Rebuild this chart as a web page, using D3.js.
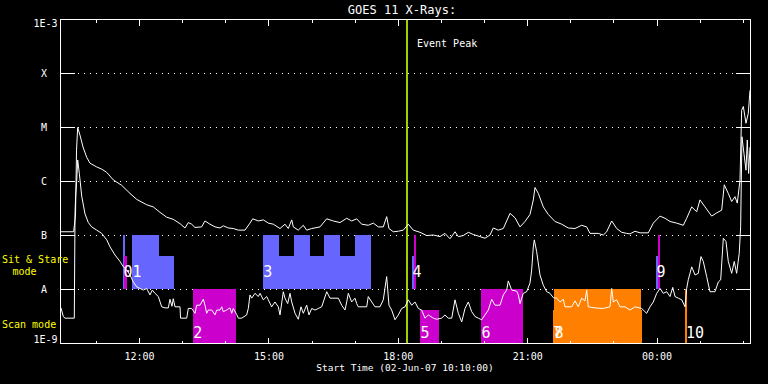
<!DOCTYPE html>
<html>
<head>
<meta charset="utf-8">
<script src="https://cdn.jsdelivr.net/npm/d3@7"></script>
<style>
body { margin: 0; background: #000; }
svg { display: block; background: #000; }
text { font-family: "DejaVu Sans Mono", monospace; fill: #fff; }
</style>
</head>
<body>
<svg></svg>
<script>
const svgWidth = 768;
const svgHeight = 384;
const plot = {left: 60, right: 750, top: 19, bottom: 343};

const title = "GOES 11 X-Rays:";
const startTime = new Date(2007, 5, 2, 10, 10, 0);
const spanMinutes = 960;
const eventPeakMin = 483;

const levelValues = [1e-9, 1e-8, 1e-7, 1e-6, 1e-5, 1e-4, 1e-3];
const levelLabels = ["1E-9", "A", "B", "C", "M", "X", "1E-3"];

// GOES long channel, [minutes after start, log10 flux]
const longChannel = [[0,-6.94],[19,-6.94],[21.6,-6.63],[23,-5.43],[24.6,-5.01],[27.8,-5.15],[32,-5.37],[37.1,-5.56],[41.7,-5.67],[51.1,-5.74],[58,-5.78],[65,-5.84],[74.2,-5.98],[85.8,-6.08],[97.4,-6.23],[106.7,-6.34],[120.6,-6.44],[129.8,-6.48],[139.1,-6.58],[148.4,-6.67],[157.6,-6.71],[167,-6.79],[173.9,-6.87],[178.5,-6.77],[183.2,-6.80],[187.8,-6.86],[197.1,-6.85],[201.7,-6.74],[208.7,-6.80],[215.7,-6.85],[222.6,-6.87],[227.2,-6.83],[234.2,-6.87],[241.1,-6.88],[248.1,-6.91],[257.4,-6.91],[264.3,-6.78],[268.1,-6.70],[275.9,-6.74],[282.9,-6.72],[289.8,-6.78],[296.8,-6.80],[306.1,-6.88],[313,-6.80],[317.6,-6.88],[322.4,-6.72],[324.6,-6.85],[331.5,-6.91],[338.5,-6.82],[343.2,-6.91],[350.2,-6.88],[361.7,-6.85],[371.1,-6.70],[380.2,-6.74],[389.6,-6.77],[398.9,-6.69],[405.8,-6.74],[412.8,-6.70],[419.7,-6.80],[428.9,-6.82],[435.9,-6.78],[442.9,-6.85],[449.8,-6.85],[454.5,-6.66],[457.7,-6.88],[463.7,-6.94],[470.7,-6.93],[477.6,-6.91],[484.6,-6.80],[491.5,-6.91],[500.9,-6.95],[510.2,-7.01],[519.4,-7.00],[528.7,-7.03],[535.6,-6.97],[542.6,-7.07],[549.6,-6.94],[554.2,-7.03],[561.1,-7.01],[568.1,-6.95],[575,-6.99],[584.3,-7.03],[591.3,-7.06],[598.3,-7.00],[602.8,-6.87],[609.8,-6.91],[616.8,-6.88],[626.1,-6.60],[633,-6.68],[640,-6.85],[647,-6.75],[653.9,-6.62],[658.5,-6.35],[660.9,-6.12],[665.5,-6.23],[672.4,-6.48],[679.4,-6.62],[688.7,-6.75],[698,-6.80],[707.2,-6.87],[716.5,-6.88],[725.8,-6.82],[732.8,-6.85],[737.4,-6.97],[748.9,-6.97],[755.9,-7.00],[760.6,-6.94],[767.6,-6.74],[774.5,-6.88],[781.5,-6.95],[788.4,-6.97],[793,-6.98],[800,-6.93],[807,-6.96],[818.5,-6.96],[825.5,-6.78],[834.8,-6.65],[841.7,-6.69],[848.7,-6.75],[858,-6.78],[867.2,-6.82],[871.9,-6.69],[878.9,-6.48],[885.8,-6.57],[890.4,-6.35],[897.4,-6.48],[906.7,-6.65],[913.7,-6.59],[920.6,-6.54],[924.2,-6.07],[929.8,-6.23],[934.5,-6.38],[939.1,-6.29],[942.3,-6.41],[946.1,-5.98],[948.4,-4.69],[950.7,-4.62],[954.4,-4.93],[957.6,-4.75],[960,-4.32]];

// GOES short channel, [minutes after start, log10 flux]
const shortChannel = [[1.4,-8.35],[4.6,-8.51],[7,-8.54],[19.9,-8.54],[20.9,-6.59],[21.8,-6.26],[23.2,-6.01],[24.6,-5.61],[26.9,-5.86],[30.2,-6.28],[34.8,-6.61],[39.4,-6.77],[44.1,-6.85],[51.1,-6.91],[58,-6.97],[65,-7.09],[69.6,-7.22],[76.5,-7.37],[83.5,-7.49],[88.1,-7.59],[92.8,-7.65],[97.4,-7.74],[102,-7.87],[106.7,-7.96],[111.3,-7.99],[115.9,-8.02],[120.6,-7.99],[125.2,-8.11],[128.4,-8.02],[132.2,-8.08],[136.8,-8.14],[141.5,-8.33],[146.1,-8.35],[150.7,-8.35],[153,-8.19],[155.8,-8.32],[157.6,-8.18],[160,-8.33],[167,-8.33],[167.7,-8.54],[176.3,-8.54],[178.5,-8.36],[183.2,-8.36],[187.8,-8.45],[190.2,-8.30],[194.8,-8.30],[199.4,-8.19],[201.7,-8.30],[204.1,-8.45],[206.3,-8.39],[211.1,-8.39],[215.7,-8.48],[218.1,-8.39],[222.6,-8.39],[225,-8.33],[227.2,-8.42],[231.9,-8.39],[236.5,-8.35],[238.9,-8.45],[241.1,-8.36],[245.8,-8.47],[248.1,-8.54],[252.8,-8.54],[259.7,-8.48],[262,-8.36],[264.3,-8.11],[266.7,-8.17],[271.3,-8.08],[275.9,-8.14],[278.3,-8.08],[282.9,-8.20],[287.6,-8.14],[289.8,-8.20],[294.5,-8.33],[299.1,-8.24],[303.7,-8.33],[306.1,-8.48],[310.7,-8.05],[313,-8.17],[316.8,-8.27],[320,-8.08],[322.4,-8.24],[327,-8.45],[331.5,-8.56],[335.3,-8.33],[338.5,-8.45],[343.2,-8.30],[346.4,-8.48],[350.2,-8.36],[354.8,-8.39],[359.4,-8.36],[364.1,-8.33],[371.1,-8.05],[375.7,-8.17],[387.2,-8.17],[391.9,-8.30],[396.5,-8.39],[398.9,-8.24],[401.1,-8.08],[405.8,-8.24],[410.4,-8.17],[412.8,-8.27],[415,-8.33],[426.7,-8.33],[428.9,-8.14],[433.7,-8.24],[438.3,-8.33],[445.2,-8.33],[449.8,-8.20],[454.5,-7.77],[457.7,-8.30],[461.5,-8.39],[466.1,-8.57],[470.7,-8.48],[475.4,-8.36],[480,-8.33],[484.6,-8.20],[489.3,-8.30],[493.9,-8.24],[498.5,-8.36],[503.2,-8.39],[507.8,-8.54],[512.4,-8.48],[519.4,-8.54],[524,-8.56],[531,-8.54],[535.6,-8.48],[540.2,-8.54],[545,-8.54],[549.6,-8.20],[554.2,-8.45],[558.9,-8.61],[563.5,-8.36],[568.1,-8.24],[572.8,-8.42],[577.4,-8.51],[582,-8.54],[586.7,-8.57],[591.3,-8.48],[595.9,-8.39],[600.6,-8.19],[605.2,-8.30],[612.2,-8.30],[616.8,-8.11],[621.5,-8.02],[623.7,-7.85],[628.4,-8.02],[635.4,-8.04],[637.7,-8.11],[640,-8.27],[644.6,-8.08],[649.3,-8.05],[653.9,-7.89],[656.2,-7.65],[658.5,-7.22],[659.9,-7.09],[663.2,-7.31],[667.8,-7.74],[672.4,-7.93],[677.1,-8.05],[681.7,-8.08],[686.3,-8.16],[691,-8.17],[695.7,-8.24],[700.3,-8.19],[702.6,-8.33],[711.9,-8.33],[716.5,-8.22],[721.1,-8.33],[725.8,-8.17],[730.4,-8.22],[732.8,-8.02],[735,-8.33],[744.3,-8.35],[755.9,-8.36],[765.2,-8.33],[767.6,-7.99],[769.8,-8.24],[774.5,-8.20],[779.1,-8.33],[786.1,-8.33],[793,-8.39],[800,-8.33],[809.3,-8.36],[816.2,-8.45],[820.9,-8.33],[825.5,-8.24],[830.2,-8.08],[834.8,-7.99],[839.4,-8.08],[844.1,-8.05],[848.7,-8.14],[852.5,-7.97],[855.7,-8.14],[860.3,-8.17],[865,-8.20],[869.6,-8.33],[871.9,-7.99],[874.1,-7.83],[878.9,-7.59],[883.5,-7.74],[888.1,-7.71],[891.8,-7.40],[895,-7.49],[899.7,-7.77],[904.3,-8.05],[911.3,-8.05],[915.9,-7.87],[919.2,-7.83],[922.9,-7.06],[926.6,-7.12],[929.8,-7.49],[934.5,-7.71],[938.1,-7.49],[941.4,-7.71],[945,-7.34],[947,-6.85],[948.8,-5.18],[951.6,-5.49],[954.4,-5.80],[956.2,-5.24],[958.1,-5.86],[960,-5.37]];

// observing blocks: [mode, colour key, start min, end min, full height?]
const blocks = [
	["sit", "blue", 87.7, 90.4, true],
	["sit", "magenta", 89, 93.2, false],
	["sit", "blue", 100.2, 137.3, true],
	["sit", "blue", 137.3, 158.6, false],
	["scan", "magenta", 184.6, 244.4, true],
	["sit", "blue", 282, 432.3, false],
	["sit", "blue", 282, 304.7, true],
	["sit", "blue", 325.6, 347.8, true],
	["sit", "blue", 367.3, 389.6, true],
	["sit", "blue", 410.4, 432.3, true],
	["sit", "blue", 489.7, 492.5, false],
	["sit", "magenta", 492.5, 495.3, true],
	["scan", "magenta", 500.9, 527.3, false],
	["scan", "magenta", 585.7, 644.2, true],
	["scan", "orange", 685.5, 809.3, false],
	["scan", "orange", 687.3, 807.9, true],
	["sit", "blue", 829.2, 832, false],
	["sit", "magenta", 832, 834.8, true],
	["scan", "orange", 870.2, 873, true]
];

// block numbers: [text, mode, start min]
const blockLabels = [
	["0", "sit", 87.7], ["1", "sit", 100.2], ["2", "scan", 184.6], ["3", "sit", 282],
	["4", "sit", 489.7], ["5", "scan", 500.9], ["6", "scan", 585.7], ["7", "scan", 685.5],
	["8", "scan", 687.3], ["9", "sit", 829.2], ["10", "scan", 870.2]
];

const colours = {blue: "#6666ff", magenta: "#cc00cc", orange: "#ff8000"};

// band edges in flux: [full top, partial top, bottom]
const bands = {sit: [1e-7, 4.1e-8, 1e-8], scan: [1e-8, 4.1e-9, 1e-9]};

const svg = d3.select("svg")
	.attr("width", svgWidth)
	.attr("height", svgHeight);

const minToDate = m => new Date(+startTime + m * 60000);

const xScale = d3.scaleTime()
	.domain([startTime, minToDate(spanMinutes)])
	.range([plot.left, plot.right]);
const yScale = d3.scaleLog()
	.domain([1e-9, 1e-3])
	.range([plot.bottom, plot.top]);

const px = v => Math.round(v) + 0.5;

svg.append("defs").append("clipPath").attr("id", "clip")
	.append("rect")
	.attr("x", plot.left).attr("y", plot.top)
	.attr("width", plot.right - plot.left + 1).attr("height", plot.bottom - plot.top + 1);

// dotted grid lines at class levels
svg.append("g")
	.selectAll("line")
	.data(levelValues.slice(1, -1))
	.enter()
	.append("line")
		.attr("x1", 78).attr("x2", 735)
		.attr("y1", d => px(yScale(d))).attr("y2", d => px(yScale(d)))
		.attr("stroke", "#fff")
		.attr("stroke-dasharray", "1,5")
		.attr("shape-rendering", "crispEdges");

// blocks
svg.append("g")
	.selectAll("rect")
	.data(blocks)
	.enter()
	.append("rect")
		.attr("x", d => Math.round(xScale(minToDate(d[2]))))
		.attr("width", d => Math.max(2, Math.round(xScale(minToDate(d[3]))) - Math.round(xScale(minToDate(d[2])))))
		.attr("y", d => Math.round(yScale(d[4] ? bands[d[0]][0] : bands[d[0]][1])))
		.attr("height", d => Math.round(yScale(bands[d[0]][2])) - Math.round(yScale(d[4] ? bands[d[0]][0] : bands[d[0]][1])))
		.attr("fill", d => colours[d[1]])
		.attr("shape-rendering", "crispEdges");

svg.append("g")
	.selectAll("text")
	.data(blockLabels)
	.enter()
	.append("text")
		.text(d => d[0])
		.attr("x", d => xScale(minToDate(d[2])) + 0.5)
		.attr("y", d => d[1] == "sit" ? yScale(bands.sit[2]) - 12 : yScale(bands.scan[2]) - 5)
		.attr("font-size", "15px");

// event peak marker
svg.append("line")
	.attr("x1", xScale(minToDate(eventPeakMin))).attr("x2", xScale(minToDate(eventPeakMin)))
	.attr("y1", plot.top).attr("y2", plot.bottom)
	.attr("stroke", "#a0d000")
	.attr("stroke-width", 2)
	.attr("shape-rendering", "crispEdges");

svg.append("text")
	.text("Event Peak")
	.attr("x", 417)
	.attr("y", 47)
	.attr("font-size", "10px");

// light curves
const line = d3.line()
	.x(d => xScale(minToDate(d[0])))
	.y(d => yScale(Math.pow(10, d[1])));

const curves = svg.append("g").attr("clip-path", "url(#clip)");
[longChannel, shortChannel].forEach(series => {
	curves.append("path")
		.attr("d", line(series))
		.attr("fill", "none")
		.attr("stroke", "#fff")
		.attr("stroke-width", 1);
});

// frame
svg.append("rect")
	.attr("x", plot.left + 0.5).attr("y", plot.top + 0.5)
	.attr("width", plot.right - plot.left).attr("height", plot.bottom - plot.top)
	.attr("fill", "none")
	.attr("stroke", "#fff")
	.attr("shape-rendering", "crispEdges");

// y level ticks, both sides
const yTicks = svg.append("g").attr("stroke", "#fff").attr("shape-rendering", "crispEdges");
levelValues.slice(1, -1).forEach(v => {
	yTicks.append("line").attr("x1", plot.left).attr("x2", plot.left + 15)
		.attr("y1", px(yScale(v))).attr("y2", px(yScale(v)));
	yTicks.append("line").attr("x1", plot.right - 14).attr("x2", plot.right)
		.attr("y1", px(yScale(v))).attr("y2", px(yScale(v)));
});

svg.append("g")
	.selectAll("text")
	.data(levelValues)
	.enter()
	.append("text")
		.text((d, i) => levelLabels[i])
		.attr("x", (d, i) => levelLabels[i].length > 1 ? 57.5 : 44)
		.attr("y", (d, i) => i == levelValues.length - 1 ? yScale(d) + 7.7 : i == 0 ? yScale(d) + 0.3 : yScale(d) + 4.3)
		.attr("text-anchor", (d, i) => levelLabels[i].length > 1 ? "end" : "middle")
		.attr("font-size", "10px");

// time axes
const hourTicks = d3.timeHour.range(startTime, minToDate(spanMinutes + 1));
const majorTicks = hourTicks.filter(d => d.getHours() % 3 == 0);
const minorTicks = hourTicks.filter(d => d.getHours() % 3 != 0);

function timeAxis(axis, ticks, size, y) {
	const g = svg.append("g")
		.attr("transform", `translate(0, ${y})`)
		.attr("color", "#fff")
		.attr("shape-rendering", "crispEdges")
		.call(axis(xScale).tickValues(ticks).tickSize(size).tickPadding(8.4)
			.tickFormat(axis == d3.axisBottom && size == -6.5 ? d3.timeFormat("%H:%M") : ""));
	g.select(".domain").remove();
	g.selectAll("text")
		.attr("font-family", "DejaVu Sans Mono, monospace")
		.attr("font-size", "10px")
		.attr("fill", "#fff");
}
timeAxis(d3.axisBottom, majorTicks, -6.5, plot.bottom + 1);
timeAxis(d3.axisBottom, minorTicks, -3.5, plot.bottom + 1);
timeAxis(d3.axisTop, majorTicks, -6.5, plot.top);
timeAxis(d3.axisTop, minorTicks, -3.5, plot.top);

// titles
svg.append("text")
	.text(title)
	.attr("x", 402)
	.attr("y", 14)
	.attr("text-anchor", "middle")
	.attr("font-size", "12px");

svg.append("text")
	.text("Start Time (" + d3.timeFormat("%d-%b-%y %H:%M:%S")(startTime) + ")")
	.attr("x", 405)
	.attr("y", 371)
	.attr("text-anchor", "middle")
	.attr("font-size", "9.5px");

// mode labels
svg.append("text").text("Sit & Stare").attr("x", 2).attr("y", 262.5)
	.attr("font-size", "10px").style("fill", "#ffff00");
svg.append("text").text("mode").attr("x", 24.5).attr("y", 275).attr("text-anchor", "middle")
	.attr("font-size", "10px").style("fill", "#ffff00");
svg.append("text").text("Scan mode").attr("x", 2).attr("y", 328)
	.attr("font-size", "10px").style("fill", "#ffff00");
</script>
</body>
</html>
